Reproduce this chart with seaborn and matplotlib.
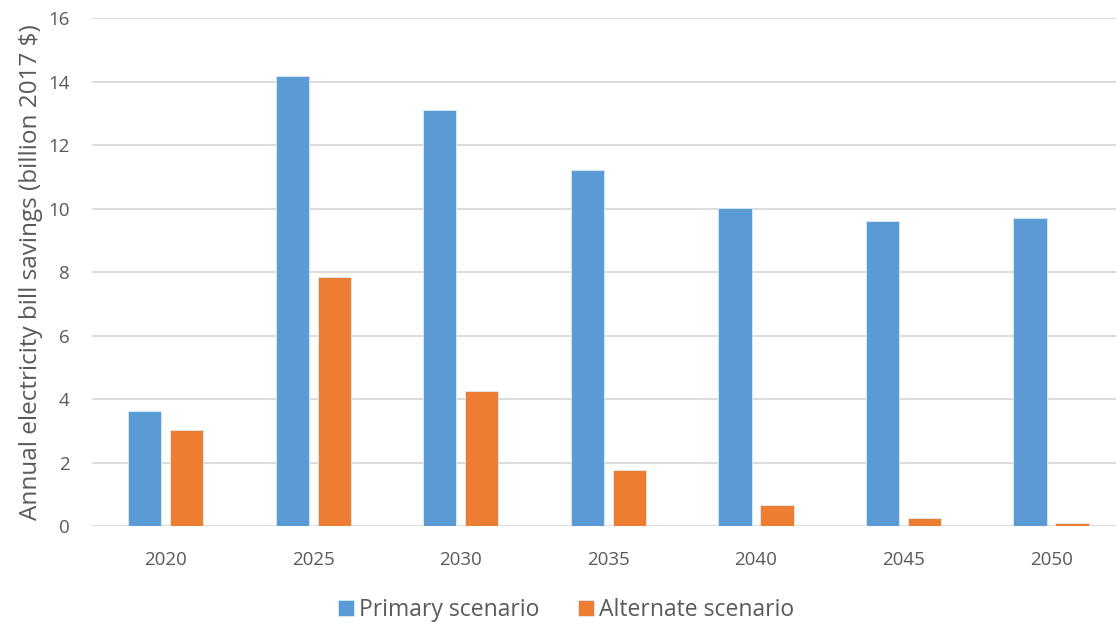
import pandas as pd
import matplotlib
matplotlib.use("Agg")
import matplotlib.pyplot as plt
import seaborn as sns

years = ["2020", "2025", "2030", "2035", "2040", "2045", "2050"]
primary = [3.62, 14.17, 13.1, 11.22, 10.02, 9.6, 9.7]
alternate = [3.02, 7.84, 4.25, 1.76, 0.66, 0.25, 0.08]
series = ["Primary scenario", "Alternate scenario"]

df = pd.DataFrame({
    "year": years * 2,
    "value": primary + alternate,
    "scenario": [series[0]] * len(years) + [series[1]] * len(years),
})

sns.set_style("white")
plt.rcParams["font.family"] = ["Open Sans", "DejaVu Sans"]

fig = plt.figure(figsize=(11.16, 6.24), dpi=100)
ax = fig.add_axes([0.0824, 0.157, 0.9176, 0.814])

sns.barplot(data=df, x="year", y="value", hue="scenario",
            palette=["#5B9BD5", "#ED7D31"], saturation=1,
            width=0.57, gap=0.21,
            edgecolor="#DDEBF7", linewidth=0.6, ax=ax, zorder=3)

ax.set_ylim(0, 16)
ax.set_yticks(range(0, 17, 2))
ax.set_xlim(-0.5, 6.44)
ax.grid(axis="y", color="#D9D9D9", linewidth=1.3, zorder=0)
ax.set_axisbelow(True)
for s in ax.spines.values():
    s.set_visible(False)

ax.tick_params(axis="both", length=0, labelsize=13.5, labelcolor="#595959")
ax.tick_params(axis="y", pad=16)
ax.tick_params(axis="x", pad=18)
ax.set_xlabel("")
ax.set_ylabel("Annual electricity bill savings (billion 2017 $)",
              fontsize=17.5, color="#595959", labelpad=4)

ax.legend(loc="center", bbox_to_anchor=(0.463, -0.166), ncol=2,
          frameon=False, fontsize=16.5, handlelength=0.7, handleheight=0.7,
          handletextpad=0.25, columnspacing=1.65, labelcolor="#595959",
          borderpad=0)

fig.savefig("out.png", dpi=100)
